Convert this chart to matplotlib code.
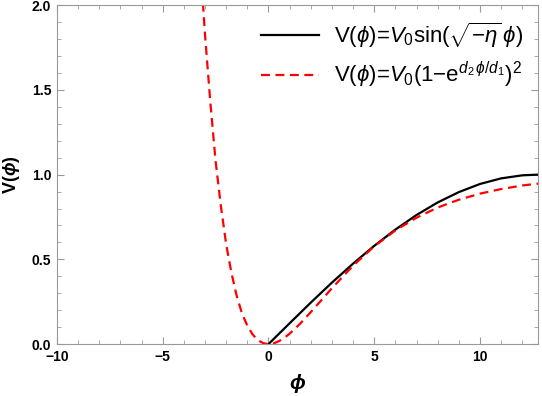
import matplotlib
matplotlib.use("Agg")
import matplotlib.pyplot as plt
from matplotlib.ticker import MultipleLocator, FormatStrFormatter

plt.rcParams['font.family'] = ['Liberation Sans', 'DejaVu Sans']
plt.rcParams['mathtext.fontset'] = 'custom'
plt.rcParams['mathtext.rm'] = 'Liberation Sans'
plt.rcParams['mathtext.it'] = 'Liberation Sans:italic'
plt.rcParams['mathtext.bf'] = 'Liberation Sans:bold:italic'

# values
phi_sin = [0, 1, 2, 3, 4, 5, 6, 7, 8, 9, 10, 11, 12, 12.75]
v_sin = [0, 0.123, 0.245, 0.363, 0.475, 0.580, 0.676, 0.762, 0.836, 0.897,
         0.945, 0.978, 0.996, 1.0]

phi_exp = [-3.1, -3.0, -2.75, -2.5, -2.25, -2.0, -1.75, -1.5, -1.25, -1.0, -0.75,
           -0.5, -0.25, 0, 0.25, 0.5, 0.75, 1, 1.5, 2, 2.5, 3, 4, 5, 6, 7, 8, 9,
           10, 11, 12, 12.75]
v_exp = [2.014, 1.826, 1.43, 1.080, 0.815, 0.590, 0.42, 0.284, 0.18, 0.109, 0.057,
         0.0235, 0.0057, 0, 0.0047, 0.0176, 0.037, 0.0615, 0.121, 0.189, 0.259,
         0.330, 0.463, 0.577, 0.671, 0.746, 0.806, 0.852, 0.888, 0.915, 0.936,
         0.947]

label_sin = r'V($\phi$)=$V_0$sin($\sqrt{-\eta}\,\phi$)'
label_exp = r'V($\phi$)=$V_0$(1$-$e$^{d_2\,\phi/d_1}$)$^2$'

fig = plt.figure(figsize=(5.42, 3.96), dpi=100)
ax = fig.add_axes([0.105, 0.131, 0.888, 0.856])

ax.plot(phi_sin, v_sin, color='black', lw=1.6, label=label_sin)
ax.plot(phi_exp, v_exp, color='#ff0000', lw=1.6, linestyle=(0, (4, 2.5)),
        label=label_exp)

ax.set_xlim(-10, 12.75)
ax.set_ylim(0, 2)
ax.xaxis.set_major_locator(MultipleLocator(5))
ax.xaxis.set_minor_locator(MultipleLocator(1))
ax.yaxis.set_major_locator(MultipleLocator(0.5))
ax.yaxis.set_minor_locator(MultipleLocator(0.1))
ax.yaxis.set_major_formatter(FormatStrFormatter('%.1f'))

ax.tick_params(which='both', direction='in', top=True, right=True,
               color='#999999', labelsize=10)
ax.tick_params(which='major', length=5, width=0.8)
ax.tick_params(which='minor', length=3, width=0.6)
ax.tick_params(axis='x', which='major', pad=4)
ax.tick_params(axis='y', which='major', pad=4)
for lab in ax.get_xticklabels() + ax.get_yticklabels():
    lab.set_fontweight('bold')
for sp in ax.spines.values():
    sp.set_color('#999999')
    sp.set_linewidth(0.8)

ax.set_xlabel(r'$\mathbf{\phi}$', fontsize=15, labelpad=6)
ax.set_ylabel(r'V($\mathbf{\phi}$)', fontsize=13, fontweight='bold', labelpad=7)

ax.legend(loc='upper right', frameon=False, fontsize=16, handlelength=2.6,
          handletextpad=0.65, borderaxespad=0.3, labelspacing=0.45)

fig.savefig('out.png', dpi=100)
